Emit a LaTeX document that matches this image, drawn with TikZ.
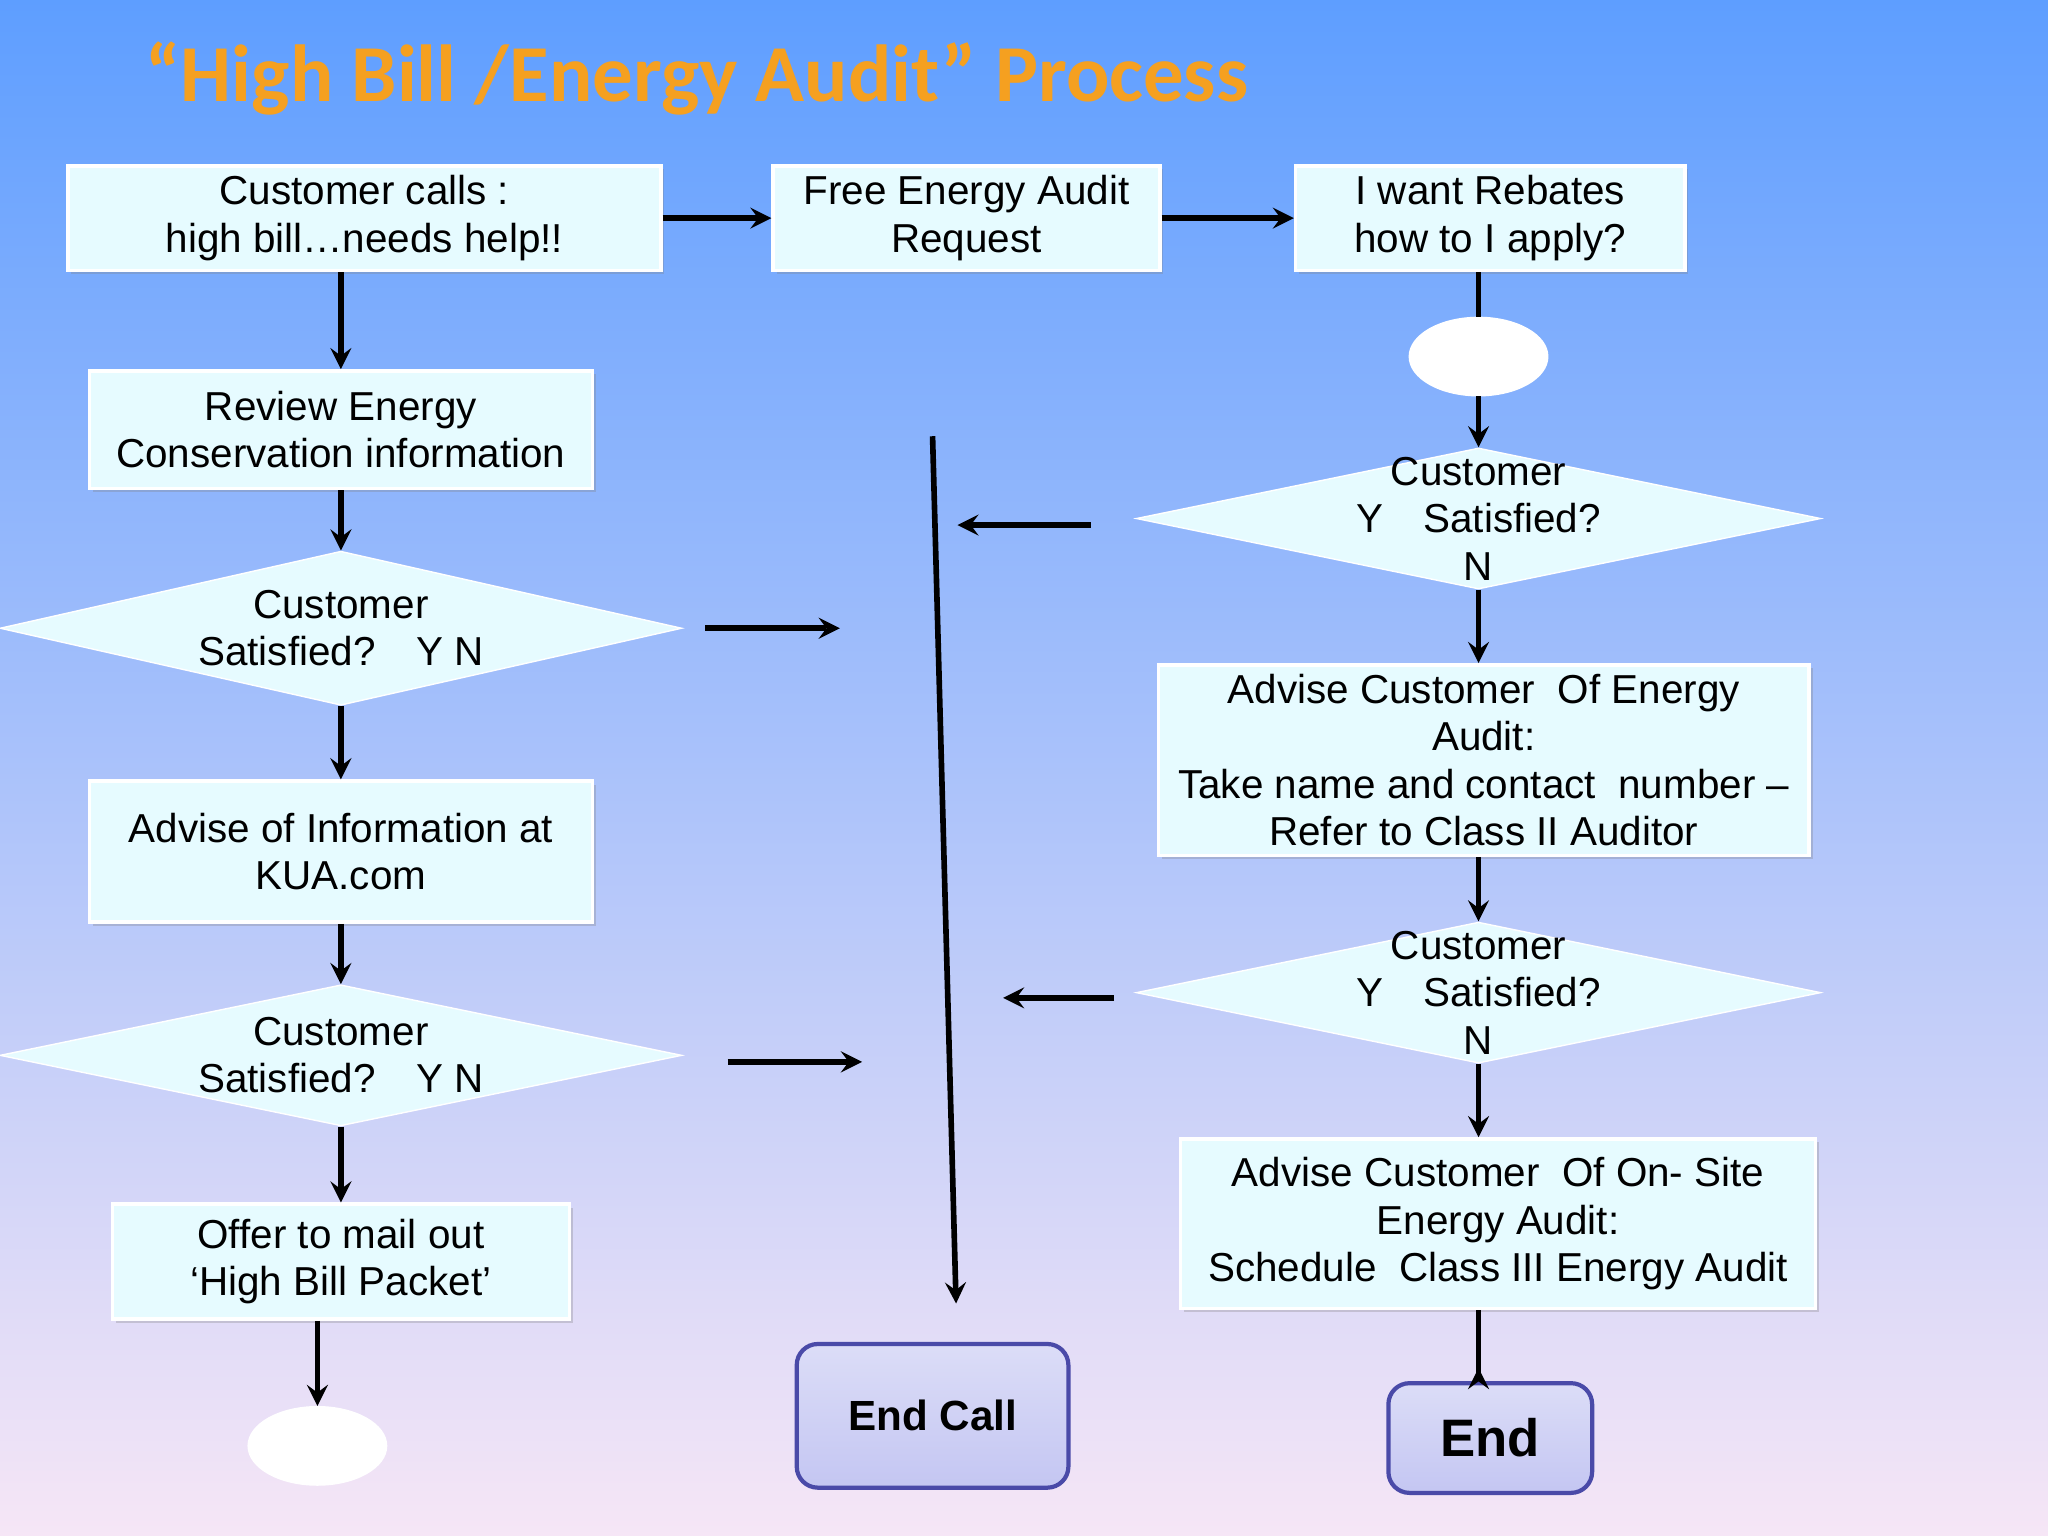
\documentclass[tikz,border=0pt]{standalone}
\usepackage{fontspec}
\setmainfont{Liberation Sans}
\newfontfamily\titlefont{Carlito}
\usetikzlibrary{shapes.geometric,shadows}
\definecolor{boxfill}{HTML}{E6FBFF}
\definecolor{titleorange}{HTML}{F5A020}
\definecolor{endfill}{HTML}{C4C6F2}
\definecolor{endline}{HTML}{4A4AA8}
\tikzset{
  box/.style={draw=white, fill=boxfill, line width=1pt, align=center,
    font=\fontsize{11.5}{13.5}\selectfont, inner sep=0pt,
    drop shadow={shadow xshift=1pt, shadow yshift=-1pt, opacity=0.3}},
  dia/.style={diamond, draw=white, fill=boxfill, inner sep=0pt},
  oval/.style={ellipse, fill=white, draw=white, inner sep=0pt},
  flow/.style={->, >=stealth, line width=1.6pt, black},
  endbox/.style={rounded corners=6pt, draw=endline, line width=1.2pt,
    top color=endfill!60, bottom color=endfill, font=\bfseries, align=center}
}
\begin{document}
\begin{tikzpicture}[x=0.01306cm, y=-0.01306cm]
  \useasboundingbox (0,0) rectangle (1568,1176);
  \shade[top color={rgb,255:red,94;green,158;blue,255}, bottom color={rgb,255:red,246;green,230;blue,246}] (0,0) rectangle (1568,1176);

  % title
  \node[anchor=west, text=titleorange, font=\titlefont\bfseries\fontsize{23}{26}\selectfont] (title) at (102,60) {“High Bill /Energy Audit” Process};

  % left column
  \node[box, minimum width=454*0.01306cm, minimum height=80*0.01306cm] (calls) at (279,167) {Customer calls :\\high bill…needs help!!};
  \node[box, minimum width=296*0.01306cm, minimum height=80*0.01306cm] (request) at (740,167) {Free Energy Audit\\Request};
  \node[box, minimum width=298*0.01306cm, minimum height=80*0.01306cm] (rebates) at (1141,167) {I want Rebates\\how to I apply?};
  \node[box, minimum width=385*0.01306cm, minimum height=90*0.01306cm] (review) at (261,329) {Review Energy\\Conservation information};
  \node[dia, minimum width=522*0.01306cm, minimum height=118*0.01306cm] (sat1) at (261,481) {};
  \node[align=center, font=\fontsize{11.5}{13.5}\selectfont] (sat1t) at (261,481) {Customer\\Satisfied?\quad Y N};
  \node[box, minimum width=385*0.01306cm, minimum height=108*0.01306cm] (kua) at (261,652) {Advise of Information at\\KUA.com};
  \node[dia, minimum width=522*0.01306cm, minimum height=108*0.01306cm] (sat2) at (261,808) {};
  \node[align=center, font=\fontsize{11.5}{13.5}\selectfont] (sat2t) at (261,808) {Customer\\Satisfied?\quad Y N};
  \node[box, minimum width=350*0.01306cm, minimum height=88*0.01306cm] (packet) at (261,966) {Offer to mail out\\‘High Bill Packet’};
  \node[oval, minimum width=106*0.01306cm, minimum height=60*0.01306cm] (endl) at (243,1107) {};

  % middle
  \node[endbox, minimum width=208*0.01306cm, minimum height=110*0.01306cm, font=\bfseries\fontsize{12}{14}\selectfont] (endcall) at (714,1084) {End Call};

  % right column
  \node[oval, minimum width=106*0.01306cm, minimum height=60*0.01306cm] (endr) at (1132,273) {};
  \node[dia, minimum width=524*0.01306cm, minimum height=108*0.01306cm] (sat3) at (1132,397) {};
  \node[align=center, font=\fontsize{11.5}{13.5}\selectfont] (sat3t) at (1132,397) {Customer\\Y\quad Satisfied?\\N};
  \node[box, minimum width=498*0.01306cm, minimum height=146*0.01306cm] (audit) at (1136,582) {Advise Customer\ \ Of Energy\\Audit:\\Take name and contact\ \ number –\\Refer to Class II Auditor};
  \node[dia, minimum width=524*0.01306cm, minimum height=108*0.01306cm] (sat4) at (1132,760) {};
  \node[align=center, font=\fontsize{11.5}{13.5}\selectfont] (sat4t) at (1132,760) {Customer\\Y\quad Satisfied?\\N};
  \node[box, minimum width=486*0.01306cm, minimum height=130*0.01306cm] (onsite) at (1147,937) {Advise Customer\ \ Of On- Site\\Energy Audit:\\Schedule\ \ Class III Energy Audit};
  \node[endbox, minimum width=156*0.01306cm, minimum height=84*0.01306cm, font=\bfseries\fontsize{15}{18}\selectfont] (endd) at (1141,1101) {End};

  % free arrow ends
  \coordinate (a1s) at (540,481); \coordinate (a1e) at (643,481);
  \coordinate (a2s) at (557,813); \coordinate (a2e) at (660,813);
  \coordinate (a3s) at (835,402); \coordinate (a3e) at (733,402);
  \coordinate (a4s) at (853,764); \coordinate (a4e) at (768,764);
  \coordinate (vs) at (714,334);  \coordinate (ve) at (732,998);

  % connectors
  \draw[flow] (calls.east) -- (request.west);
  \draw[flow] (request.east) -- (rebates.west);
  \draw[flow] (calls.south -| review.north) -- (review.north);
  \draw[flow] (review) -- (sat1);
  \draw[flow] (sat1) -- (kua);
  \draw[flow] (kua) -- (sat2);
  \draw[flow] (sat2) -- (packet);
  \draw[flow] (packet.south -| endl.north) -- (endl.north);
  \draw[line width=1.6pt] (rebates.south -| endr.north) -- (endr.north);
  \draw[flow] (endr) -- (sat3);
  \draw[flow] (sat3) -- (sat3 |- audit.north);
  \draw[flow] (sat3 |- audit.south) -- (sat4);
  \draw[flow] (sat4) -- (sat4 |- onsite.north);
  \draw[flow] (sat4 |- onsite.south) -- (sat4 |- endd.north) ++(0,-10);
  \draw[flow] (a1s) -- (a1e);
  \draw[flow] (a2s) -- (a2e);
  \draw[flow] (a3s) -- (a3e);
  \draw[flow] (a4s) -- (a4e);
  \draw[flow] (vs) -- (ve);
\end{tikzpicture}
\end{document}
